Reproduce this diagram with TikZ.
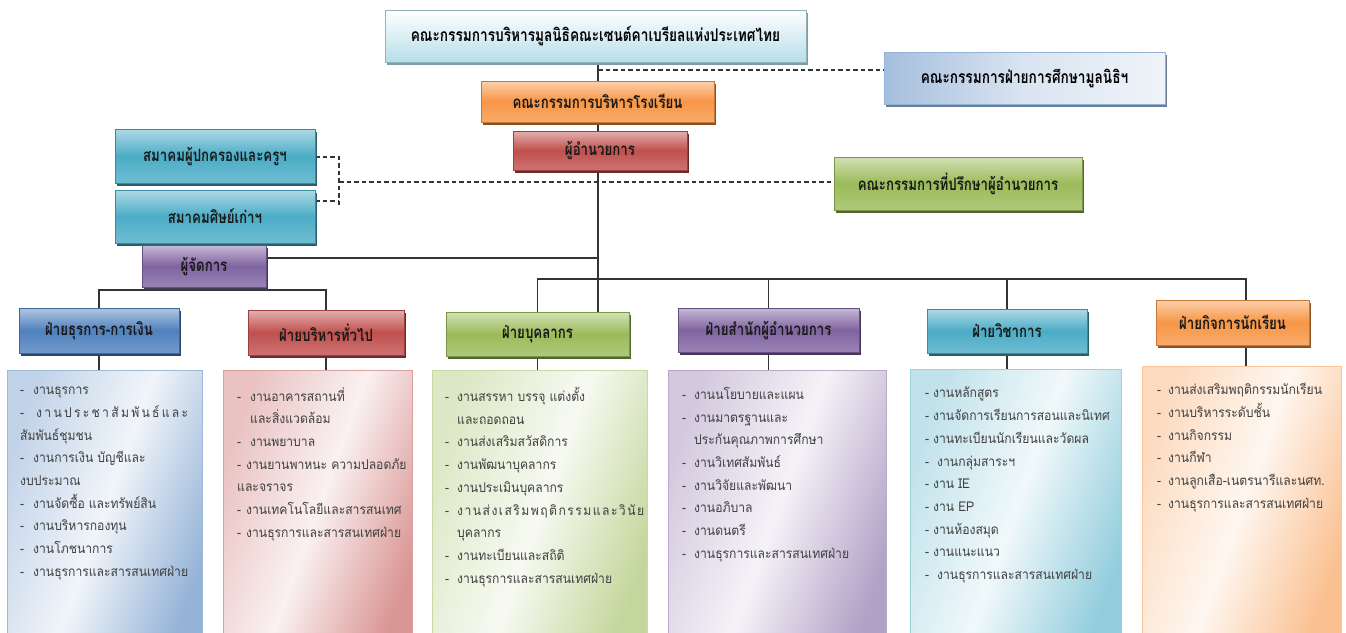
\documentclass[tikz,border=0pt]{standalone}
\usepackage{fontspec}
\usetikzlibrary{shadows,backgrounds}
\newfontfamily\thaif[Script=Thai,FakeStretch=0.9]{Loma}
\newfontfamily\thaih[Script=Thai,FakeStretch=0.78]{Loma}
\newcommand\hdfont{\thaih\bfseries\fontsize{17}{19}\selectfont}
\newcommand\dl[2][13pt]{\makebox[#1][l]{-}#2}
\definecolor{cBlue}{HTML}{4F81BD}
\definecolor{cRed}{HTML}{C0504D}
\definecolor{cGreen}{HTML}{9BBB59}
\definecolor{cPurple}{HTML}{8064A2}
\definecolor{cTeal}{HTML}{4BACC6}
\definecolor{cOrange}{HTML}{F79646}
\definecolor{cLtBlue}{HTML}{95B3D7}
\definecolor{cCyan}{HTML}{B7DEE8}
\definecolor{lineC}{HTML}{333333}
\tikzset{
  hb/.style={draw=#1!80!black, line width=0.5pt, top color=#1!45!white, bottom color=#1!80!white, middle color=#1,
    drop shadow={shadow xshift=1.5pt, shadow yshift=-3pt, fill=#1!55!black, opacity=1},
    inner sep=0pt, font=\hdfont, text=black!90},
  lbx/.style={draw=#1!55!white, line width=0.6pt, left color=#1!35!white, right color=#1!60!white, middle color=#1!8!white,
    shading angle=70, inner sep=0pt,
    drop shadow={shadow xshift=1pt, shadow yshift=-1.5pt, fill=black!25, opacity=1}},
  lt/.style={inner sep=0pt, anchor=north west, align=left, font=\thaif\fontsize{13.5}{22.7}\selectfont, text=black!75},
  conn/.style={draw=lineC, line width=1.2pt},
  dsh/.style={draw=lineC, line width=1.3pt, dash pattern=on 4.5pt off 3pt},
}
\begin{document}
\begin{tikzpicture}[x=1pt,y=-1pt]
\useasboundingbox (0,0) rectangle (1346,632);
\clip (0,0) rectangle (1346,632);

% top level boxes
\node[draw=cCyan!80!black, line width=0.5pt, top color=white, bottom color=cCyan,
  drop shadow={shadow xshift=1.5pt, shadow yshift=-3pt, fill=cCyan!70!black, opacity=1},
  inner sep=0pt, font=\hdfont\fontsize{17.5}{19}\selectfont, minimum width=421pt, minimum height=52pt]
  (top) at (595.5,36) {คณะกรรมการบริหารมูลนิธิคณะเซนต์คาเบรียลแห่งประเทศไทย};
\node[draw=cLtBlue, line width=0.5pt, left color=cLtBlue!85!white, right color=cLtBlue!15!white, middle color=cLtBlue!35!white,
  drop shadow={shadow xshift=1.5pt, shadow yshift=-3pt, fill=cLtBlue!70!black, opacity=1},
  inner sep=0pt, font=\hdfont\fontsize{17.5}{19}\selectfont, minimum width=281pt, minimum height=52pt]
  (fdn) at (1024.5,78) {คณะกรรมการฝ่ายการศึกษามูลนิธิฯ};
\node[hb=cOrange, minimum width=233pt, minimum height=41pt] (board) at (597.5,101.5) {คณะกรรมการบริหารโรงเรียน};
\node[hb=cRed, minimum width=174pt, minimum height=39pt] (dir) at (600,150.5) {ผู้อำนวยการ};
\node[hb=cTeal, minimum width=200pt, minimum height=54pt] (pta) at (215,156) {สมาคมผู้ปกครองและครูฯ};
\node[hb=cTeal, minimum width=200pt, minimum height=53pt] (alum) at (215,216.5) {สมาคมศิษย์เก่าฯ};
\node[hb=cGreen, minimum width=248pt, minimum height=53pt] (adv) at (958,183.5) {คณะกรรมการที่ปรึกษาผู้อำนวยการ};
\node[hb=cPurple, minimum width=124pt, minimum height=42pt] (mgr) at (204,266) {ผู้จัดการ};

% departments
\node[hb=cBlue, minimum width=160pt, minimum height=45pt] (d1) at (99,330.5) {ฝ่ายธุรการ-การเงิน};
\node[hb=cRed, minimum width=156pt, minimum height=45pt] (d2) at (326,332.5) {ฝ่ายบริหารทั่วไป};
\node[hb=cGreen, minimum width=183pt, minimum height=44pt] (d3) at (537.5,334) {ฝ่ายบุคลากร};
\node[hb=cPurple, minimum width=181pt, minimum height=44pt] (d4) at (768.5,330) {ฝ่ายสำนักผู้อำนวยการ};
\node[hb=cTeal, minimum width=160pt, minimum height=44pt] (d5) at (1007,331) {ฝ่ายวิชาการ};
\node[hb=cOrange, minimum width=153pt, minimum height=45pt] (d6) at (1232.5,322.5) {ฝ่ายกิจการนักเรียน};

% list boxes
\node[lbx=cBlue, anchor=north west, minimum width=195pt, minimum height=280pt] (l1) at (7,370) {};
\node[lbx=cRed, anchor=north west, minimum width=189pt, minimum height=280pt] (l2) at (223,370) {};
\node[lbx=cGreen, anchor=north west, minimum width=215pt, minimum height=280pt] (l3) at (432,370) {};
\node[lbx=cPurple, anchor=north west, minimum width=218pt, minimum height=280pt] (l4) at (668,370) {};
\node[lbx=cTeal, anchor=north west, minimum width=211pt, minimum height=280pt] (l5) at (910,369) {};
\node[lbx=cOrange, anchor=north west, minimum width=199pt, minimum height=280pt] (l6) at (1142,366) {};

% list texts
\node[lt] (t1) at (20,387) {\dl{งานธุรการ}\\
\makebox[168pt][s]{\makebox[16pt][l]{-}ง\hfill า\hfill น\hfill ป\hfill ร\hfill ะ\hfill ช\hfill า\hfill สั\hfill ม\hfill พั\hfill น\hfill ธ์\hfill แ\hfill ล\hfill ะ}\\
สัมพันธ์ชุมชน\\
\dl{งานการเงิน บัญชีและ}\\
งบประมาณ\\
\dl{งานจัดซื้อ และทรัพย์สิน}\\
\dl{งานบริหารกองทุน}\\
\dl{งานโภชนาการ}\\
\dl{งานธุรการและสารสนเทศฝ่าย}};
\node[lt] (t2) at (237,387) {\dl{งานอาคารสถานที่}\\
\hspace*{13pt}และสิ่งแวดล้อม\\
\dl{งานพยาบาล}\\
\dl[9pt]{งานยานพาหนะ ความปลอดภัย}\\
และจราจร\\
\dl[9pt]{งานเทคโนโลยีและสารสนเทศ}\\
\dl[9pt]{งานธุรการและสารสนเทศฝ่าย}};
\node[lt] (t3) at (445,387) {\dl[12pt]{งานสรรหา บรรจุ แต่งตั้ง}\\
\hspace*{12pt}และถอดถอน\\
\dl[12pt]{งานส่งเสริมสวัสดิการ}\\
\dl[12pt]{งานพัฒนาบุคลากร}\\
\dl[12pt]{งานประเมินบุคลากร}\\
\makebox[199pt][s]{\makebox[12pt][l]{-}ง\hfill า\hfill น\hfill ส่\hfill ง\hfill เ\hfill ส\hfill ริ\hfill ม\hfill พ\hfill ฤ\hfill ติ\hfill ก\hfill ร\hfill ร\hfill ม\hfill แ\hfill ล\hfill ะ\hfill วิ\hfill นั\hfill ย}\\
\hspace*{12pt}บุคลากร\\
\dl[12pt]{งานทะเบียนและสถิติ}\\
\dl[12pt]{งานธุรการและสารสนเทศฝ่าย}};
\node[lt] (t4) at (682,387) {\dl[12pt]{งานนโยบายและแผน}\\
\dl[12pt]{งานมาตรฐานและ}\\
\hspace*{12pt}ประกันคุณภาพการศึกษา\\
\dl[12pt]{งานวิเทศสัมพันธ์}\\
\dl[12pt]{งานวิจัยและพัฒนา}\\
\dl[12pt]{งานอภิบาล}\\
\dl[12pt]{งานดนตรี}\\
\dl[12pt]{งานธุรการและสารสนเทศฝ่าย}};
\node[lt] (t5) at (925,387) {\dl[8pt]{งานหลักสูตร}\\
\dl[8pt]{งานจัดการเรียนการสอนและนิเทศ}\\
\dl[8pt]{งานทะเบียนนักเรียนและวัดผล}\\
\dl[12pt]{งานกลุ่มสาระฯ}\\
\dl[8pt]{งาน IE}\\
\dl[8pt]{งาน EP}\\
\dl[8pt]{งานห้องสมุด}\\
\dl[8pt]{งานแนะแนว}\\
\dl[12pt]{งานธุรการและสารสนเทศฝ่าย}};
\node[lt] (t6) at (1157,383) {\dl[11pt]{งานส่งเสริมพฤติกรรมนักเรียน}\\
\dl[11pt]{งานบริหารระดับชั้น}\\
\dl[11pt]{งานกิจกรรม}\\
\dl[11pt]{งานกีฬา}\\
\dl[11pt]{งานลูกเสือ-เนตรนารีและนศท.}\\
\dl[11pt]{งานธุรการและสารสนเทศฝ่าย}};

% connectors (behind the boxes)
\coordinate (mx) at (598,0);
\coordinate (j1) at (598,70);
\coordinate (j2) at (598,258);
\coordinate (rb) at (598,279);
\coordinate (lb) at (201,290);
\coordinate (c6) at (1246,0);
\coordinate (bt) at (339,157);
\coordinate (bm) at (339,182);
\coordinate (bb) at (339,207);
\coordinate (ba) at (339,201);

\begin{scope}[on background layer]
\fill[white] (0,0) rectangle (1346,632);
\draw[conn] (top.south -| mx) -- (d3.north -| mx);
\draw[dsh] (j1) -- (j1 -| fdn.west);
\draw[dsh] (bt -| pta.east) -- (bt) -- (bb);
\draw[dsh] (ba -| alum.east) -- (ba);
\draw[dsh] (bm) -- (bm -| adv.west);
\draw[conn] (j2 -| mgr.east) -- (j2);
\draw[conn] (mgr.south -| lb) -- (lb);
\draw[conn] (d1.north) |- (lb) -| (d2.north);
\draw[conn] (d3.north) |- (rb) -| (d6.north -| c6);
\draw[conn] (rb -| d4.north) -- (d4.north);
\draw[conn] (rb -| d5.north) -- (d5.north);
\draw[conn] (d1.south) -- (d1.south |- l1.north);
\draw[conn] (d2.south) -- (d2.south |- l2.north);
\draw[conn] (d3.south) -- (d3.south |- l3.north);
\draw[conn] (d4.south) -- (d4.south |- l4.north);
\draw[conn] (d5.south) -- (d5.south |- l5.north);
\draw[conn] (d6.south -| c6) -- (l6.north -| c6);
\end{scope}
\end{tikzpicture}
\end{document}
